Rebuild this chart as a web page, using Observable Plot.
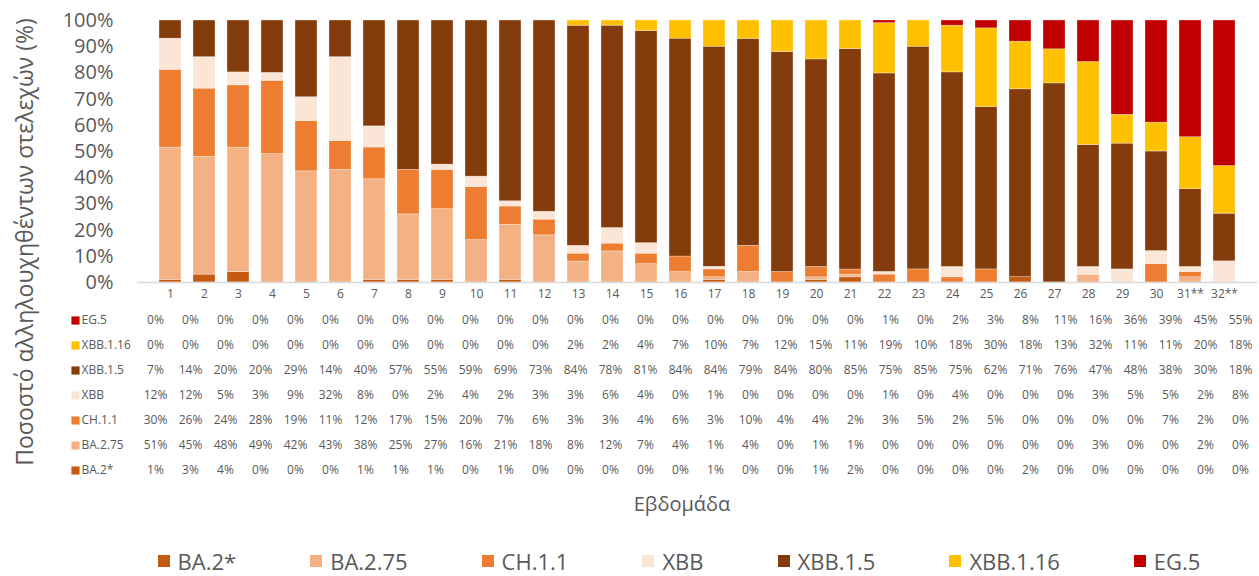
<!DOCTYPE html>
<html>
<head>
<meta charset="utf-8">
<script src="https://cdn.jsdelivr.net/npm/d3@7"></script>
<script src="https://cdn.jsdelivr.net/npm/@observablehq/plot@0.6"></script>
<style>
  html, body { margin: 0; padding: 0; background: #fff; }
  #wrap { position: relative; width: 1259px; height: 576px; overflow: hidden; font-family: "Open Sans", sans-serif; color: #595959; }
  #chart { position: absolute; left: 0; top: 0; }
  #table { position: absolute; left: 0; top: 305px; }
  #ytitle { position: absolute; left: 24px; top: 242px; transform: translate(-50%, -50%) rotate(-90deg); white-space: nowrap; font-size: 23px; line-height: 26px; }
  #xtitle { position: absolute; left: 682px; top: 504px; transform: translate(-50%, -50%); font-size: 20px; line-height: 24px; white-space: nowrap; }
  #legend { position: absolute; left: 0; width: 1358px; top: 546px; height: 30px; display: flex; justify-content: center; align-items: center; gap: 74px; font-size: 22px; line-height: 30px; }
  #legend .item { display: flex; align-items: center; gap: 8px; white-space: nowrap; height: 30px; }
  #legend .sw { width: 12px; height: 12px; display: inline-block; }
</style>
</head>
<body>
<div id="wrap">
  <div id="chart"></div>
  <div id="table"></div>
  <div id="ytitle">Ποσοστό αλληλουχηθέντων στελεχών (%)</div>
  <div id="xtitle">Εβδομάδα</div>
  <div id="legend"></div>
</div>
<script>
const weeks = ["1","2","3","4","5","6","7","8","9","10","11","12","13","14","15","16","17","18","19","20","21","22","23","24","25","26","27","28","29","30","31**","32**"];
const seriesNames = ["BA.2*","BA.2.75","CH.1.1","XBB","XBB.1.5","XBB.1.16","EG.5"];
const seriesColors = ["#C55A11","#F4B183","#ED7D31","#FBE5D6","#843C0C","#FFC000","#C00000"];

const ba2    = [1,3,4,0,0,0,1,1,1,0,1,0,0,0,0,0,1,0,0,1,2,0,0,0,0,2,0,0,0,0,0,0];
const ba275  = [51,45,48,49,42,43,38,25,27,16,21,18,8,12,7,4,1,4,0,1,1,0,0,0,0,0,0,3,0,0,2,0];
const ch11   = [30,26,24,28,19,11,12,17,15,20,7,6,3,3,4,6,3,10,4,4,2,3,5,2,5,0,0,0,0,7,2,0];
const xbb    = [12,12,5,3,9,32,8,0,2,4,2,3,3,6,4,0,1,0,0,0,0,1,0,4,0,0,0,3,5,5,2,8];
const xbb15  = [7,14,20,20,29,14,40,57,55,59,69,73,84,78,81,84,84,79,84,80,85,75,85,75,62,71,76,47,48,38,30,18];
const xbb116 = [0,0,0,0,0,0,0,0,0,0,0,0,2,2,4,7,10,7,12,15,11,19,10,18,30,18,13,32,11,11,20,18];
const eg5    = [0,0,0,0,0,0,0,0,0,0,0,0,0,0,0,0,0,0,0,0,0,1,0,2,3,8,11,16,36,39,45,55];

const seriesValues = [ba2, ba275, ch11, xbb, xbb15, xbb116, eg5];
const rows = [];
seriesNames.forEach((s, i) => weeks.forEach((w, j) => rows.push({week: w, series: s, value: seriesValues[i][j]})));
const tableOrder = seriesNames.slice().reverse();

const colorScale = {domain: seriesNames, range: seriesColors};

const chart = Plot.plot({
  width: 1259, height: 305,
  marginTop: 20, marginBottom: 23, marginLeft: 137, marginRight: 2,
  style: {fontFamily: "Open Sans, sans-serif", color: "#595959", background: "transparent"},
  x: {domain: weeks, padding: 0.34},
  y: {domain: [0, 1]},
  color: colorScale,
  marks: [
    Plot.barY(rows.filter(d => d.value > 0), {
      x: "week", y: "value", fill: "series",
      offset: "normalize", order: seriesNames,
      stroke: "#ffffff", strokeWidth: 0.6, strokeOpacity: 0.5
    }),
    Plot.ruleY([0], {stroke: "#d9d9d9", strokeWidth: 1.5}),
    Plot.axisX({tickSize: 0, tickPadding: 7, fontSize: 12, label: null, fill: "#595959"}),
    Plot.axisY({ticks: d3.range(11).map(i => i / 10), tickFormat: d3.format(".0%"), tickSize: 0, tickPadding: 24, fontSize: 20, label: null, fill: "#595959"})
  ]
});
document.getElementById("chart").appendChild(chart);

const table = Plot.plot({
  width: 1259, height: 180,
  marginTop: 1, marginBottom: 2, marginLeft: 137, marginRight: 2,
  style: {fontFamily: "Open Sans, sans-serif", color: "#595959", background: "transparent"},
  x: {domain: weeks, axis: null},
  y: {type: "point", domain: tableOrder, axis: null, padding: 0.5},
  color: colorScale,
  marks: [
    Plot.text(rows, {x: "week", y: "series", text: d => d.value + "%", fontSize: 12, fill: "#595959"}),
    Plot.dot(tableOrder, {y: d => d, frameAnchor: "left", dx: -62, symbol: "square", r: 4.6, fill: d => d, stroke: null}),
    Plot.text(tableOrder, {y: d => d, text: d => d, frameAnchor: "left", dx: -56, textAnchor: "start", fontSize: 12, fill: "#595959"})
  ]
});
document.getElementById("table").appendChild(table);

const legend = document.getElementById("legend");
seriesNames.forEach((s, i) => {
  const item = document.createElement("div");
  item.className = "item";
  const sw = document.createElement("span");
  sw.className = "sw";
  sw.style.background = seriesColors[i];
  const tx = document.createElement("span");
  tx.textContent = s;
  item.appendChild(sw);
  item.appendChild(tx);
  legend.appendChild(item);
});
</script>
</body>
</html>
